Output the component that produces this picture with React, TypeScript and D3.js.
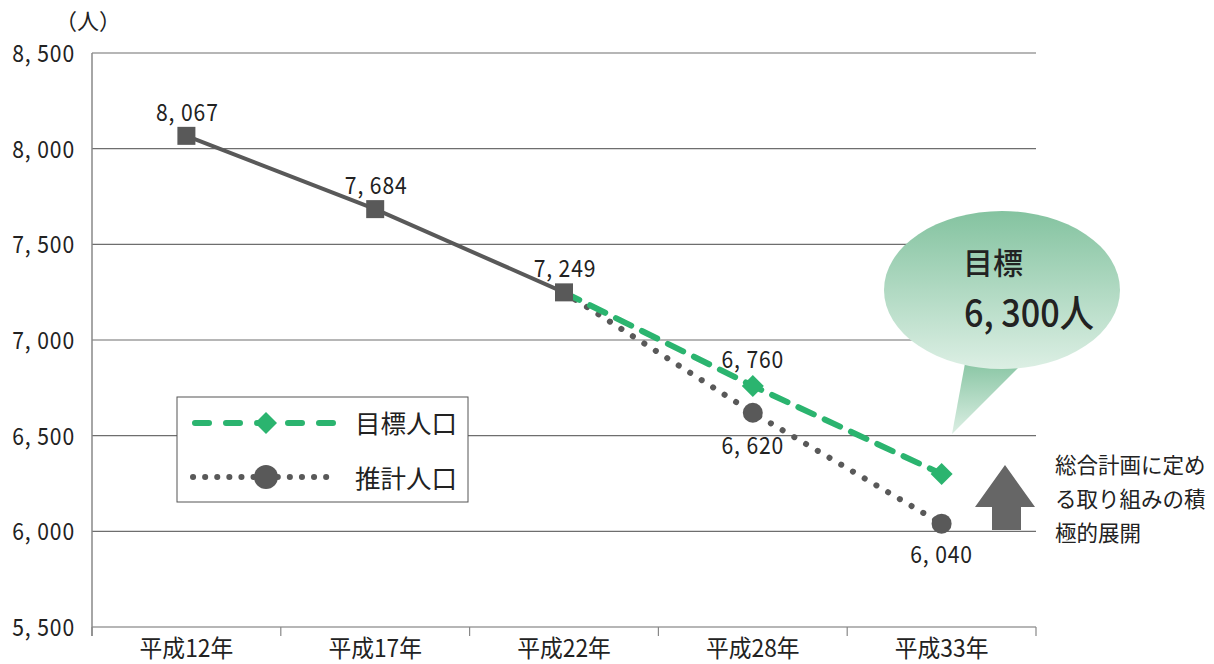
import React from "react";
import * as d3 from "d3";

const categories = ["平成12年", "平成17年", "平成22年", "平成28年", "平成33年"];
const actualValues = [8067, 7684, 7249];
const targetValues = [null, null, 7249, 6760, 6300];
const estimateValues = [null, null, 7249, 6620, 6040];
const yTicks = [5500, 6000, 6500, 7000, 7500, 8000, 8500];
const noteLines = ["総合計画に定め", "る取り組みの積", "極的展開"];

const W = 1214;
const H = 664;
const margin = { top: 53, right: 178, bottom: 37, left: 92 };
const FONT = "'Noto Sans CJK JP', 'Noto Sans', sans-serif";
const GREEN = "#2bb46f";
const GRAY = "#595959";

const fmt = (v: number) => d3.format(",")(v).replace(",", ", ");

function CText({ x, y, children, size = 24, anchor = "middle", sx = 0.88, weight = 400, ls = 1 }: any) {
  return (
    <text
      transform={`translate(${x},${y}) scale(${sx},1)`}
      textAnchor={anchor}
      fontSize={size}
      fontFamily={FONT}
      fontWeight={weight}
      letterSpacing={ls}
      fill="#222"
    >
      {children}
    </text>
  );
}

export default function App() {
  const x = d3
    .scaleBand()
    .domain(categories)
    .range([margin.left, W - margin.right]);
  const y = d3
    .scaleLinear()
    .domain([5500, 8500])
    .range([H - margin.bottom, margin.top]);
  const cx = (i: number) => (x(categories[i]) as number) + x.bandwidth() / 2;

  const line = d3
    .line<any>()
    .x((d) => cx(d[0]))
    .y((d) => y(d[1]));

  const actualPts = actualValues.map((v, i) => [i, v]);
  const targetPts = targetValues.map((v, i) => [i, v]).filter((d) => d[1] != null);
  const estPts = estimateValues.map((v, i) => [i, v]).filter((d) => d[1] != null);

  const bottom = H - margin.bottom;
  const right = W - margin.right;

  return (
    <svg width={W} height={H} style={{ position: "absolute", left: 0, top: 0, background: "#fff" }}>
      <defs>
        <linearGradient id="bub" x1="0" y1="0" x2="0" y2="1">
          <stop offset="0" stopColor="#84c3a0" />
          <stop offset="1" stopColor="#dcefe4" />
        </linearGradient>
      </defs>

      {/* grid */}
      {yTicks.map((t) => (
        <line key={t} x1={margin.left} x2={right} y1={y(t)} y2={y(t)} stroke="#6e6e6e" strokeWidth={1.2} />
      ))}
      <line x1={margin.left} x2={margin.left} y1={margin.top} y2={bottom + 9} stroke="#888" strokeWidth={1.5} />
      {categories.map((c) => (
        <line key={c} x1={x(c)} x2={x(c)} y1={bottom} y2={bottom + 9} stroke="#888" strokeWidth={1.2} />
      ))}
      <line x1={right} x2={right} y1={bottom} y2={bottom + 9} stroke="#888" strokeWidth={1.2} />

      {yTicks.map((t) => (
        <CText key={t} x={75} y={y(t) + 9} anchor="end">
          {fmt(t)}
        </CText>
      ))}
      <text x={88} y={29} textAnchor="middle" fontSize={22} fontFamily={FONT} fill="#222">（人）</text>
      {categories.map((c, i) => (
        <CText key={c} x={cx(i)} y={657} size={24} sx={0.95} ls={0}>
          {c}
        </CText>
      ))}

      {/* estimate */}
      <path d={line(estPts) || ""} fill="none" stroke={GRAY} strokeWidth={6} strokeLinecap="round" strokeDasharray="0.1 13.5" />
      {/* target */}
      <path d={line(targetPts) || ""} fill="none" stroke={GREEN} strokeWidth={6} strokeLinecap="round" strokeDasharray="17 12" />
      {/* actual */}
      <path d={line(actualPts) || ""} fill="none" stroke={GRAY} strokeWidth={4} />

      {estPts.slice(1).map((d) => (
        <circle key={d[0]} cx={cx(d[0] as number)} cy={y(d[1] as number)} r={10} fill={GRAY} />
      ))}
      {targetPts.slice(1).map((d) => {
        const px = cx(d[0] as number);
        const py = y(d[1] as number);
        return <path key={d[0]} d={`M${px},${py - 11}L${px + 11},${py}L${px},${py + 11}L${px - 11},${py}Z`} fill={GREEN} />;
      })}
      {actualPts.map((d) => (
        <rect key={d[0]} x={cx(d[0]) - 9} y={y(d[1]) - 9} width={18} height={18} fill={GRAY} />
      ))}

      {/* labels */}
      {actualPts.map((d) => (
        <CText key={d[0]} x={cx(d[0]) + 1} y={y(d[1]) - 15}>
          {fmt(d[1])}
        </CText>
      ))}
      <CText x={cx(3)} y={y(6760) - 18}>{fmt(6760)}</CText>
      <CText x={cx(3)} y={y(6620) + 41}>{fmt(6620)}</CText>
      <CText x={cx(4)} y={y(6040) + 39}>{fmt(6040)}</CText>

      {/* legend */}
      <rect x={177} y={397} width={291} height={105} fill="#fff" stroke="#555" strokeWidth={1} />
      <line x1={195} x2={335} y1={423} y2={423} stroke={GREEN} strokeWidth={6} strokeLinecap="round" strokeDasharray="14 17" />
      <path d="M266,412L277,423L266,434L255,423Z" fill={GREEN} />
      <line x1={193} x2={335} y1={477} y2={477} stroke={GRAY} strokeWidth={6} strokeLinecap="round" strokeDasharray="0.1 12" />
      <circle cx={266} cy={477} r={12} fill={GRAY} />
      <text x={355} y={433} fontSize={25.5} fontFamily={FONT} fill="#222">目標人口</text>
      <text x={355} y={488} fontSize={25.5} fontFamily={FONT} fill="#222">推計人口</text>

      {/* bubble */}
      <path d="M966,358 L952,434 L1020,366 Z" fill="url(#bub)" />
      <ellipse cx={1002} cy={290} rx={118} ry={79} fill="url(#bub)" />
      <text x={963} y={274} fontSize={30} fontFamily={FONT} fontWeight={500} fill="#222">目標</text>
      <CText x={964} y={327} size={38} anchor="start" sx={0.9} weight={500} ls={0}>
        6, 300人
      </CText>

      {/* arrow */}
      <path d="M1005,465 L1035,507 L1021,507 L1021,530 L992,530 L992,507 L975,507 Z" fill="#666" />
      {noteLines.map((t, i) => (
        <text key={t} x={1055} y={473 + i * 34} fontSize={21.5} fontFamily={FONT} fill="#222">
          {t}
        </text>
      ))}
    </svg>
  );
}
